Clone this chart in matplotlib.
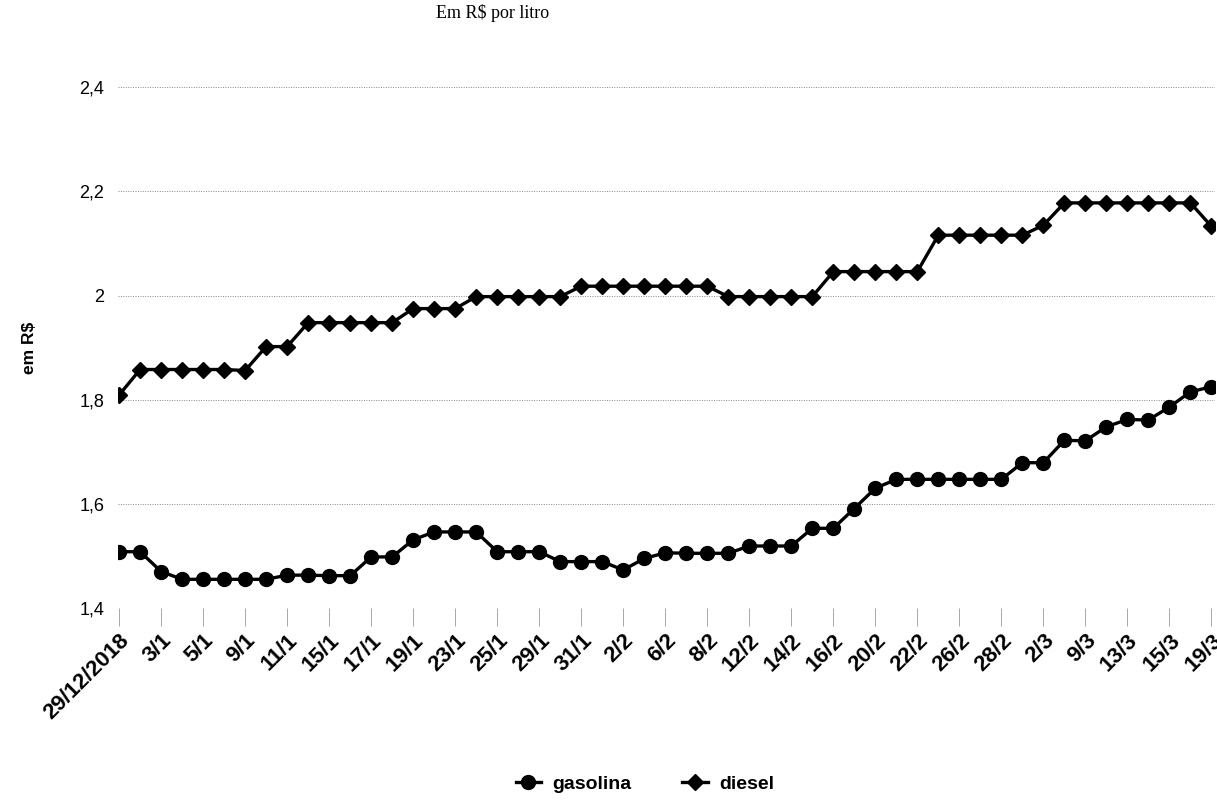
import numpy as np
import matplotlib.pyplot as plt
from matplotlib.lines import Line2D

# tick labels, one for every second observation
tick_labels = ['29/12/2018', '3/1', '5/1', '9/1', '11/1', '15/1', '17/1', '19/1',
               '23/1', '25/1', '29/1', '31/1', '2/2', '6/2', '8/2', '12/2', '14/2',
               '16/2', '20/2', '22/2', '26/2', '28/2', '2/3', '9/3', '13/3', '15/3', '19/3']

gasolina = [1.508, 1.508, 1.470, 1.455, 1.455, 1.455, 1.455, 1.455, 1.463, 1.463,
            1.462, 1.462, 1.498, 1.498, 1.531, 1.546, 1.546, 1.546, 1.508, 1.508,
            1.508, 1.489, 1.489, 1.489, 1.473, 1.495, 1.506, 1.505, 1.505, 1.505,
            1.519, 1.519, 1.519, 1.553, 1.553, 1.591, 1.630, 1.647, 1.647, 1.647,
            1.647, 1.647, 1.647, 1.679, 1.679, 1.722, 1.721, 1.748, 1.762, 1.761,
            1.786, 1.815, 1.825]

diesel = [1.809, 1.858, 1.858, 1.858, 1.858, 1.858, 1.856, 1.902, 1.902, 1.948,
          1.948, 1.948, 1.948, 1.948, 1.975, 1.975, 1.975, 1.998, 1.998, 1.998,
          1.998, 1.998, 2.018, 2.018, 2.018, 2.018, 2.018, 2.018, 2.018, 1.998,
          1.998, 1.998, 1.998, 1.998, 2.046, 2.046, 2.046, 2.046, 2.046, 2.116,
          2.116, 2.116, 2.116, 2.116, 2.135, 2.178, 2.178, 2.178, 2.178, 2.178,
          2.178, 2.178, 2.133]

yticks = [1.4, 1.6, 1.8, 2.0, 2.2, 2.4]
ytick_labels = ['1,4', '1,6', '1,8', '2', '2,2', '2,4']

x = np.arange(len(gasolina))

fig = plt.figure(figsize=(12.17, 8.01), dpi=100)
ax = fig.add_axes([0.097, 0.241, 0.901, 0.650])

ax.plot(x, gasolina, color='black', lw=2.4, marker='o', ms=10,
        mfc='black', mec='black', mew=1, label='gasolina', zorder=3)
ax.plot(x, diesel, color='black', lw=2.4, marker='D', ms=8,
        mfc='black', mec='black', mew=1, label='diesel', zorder=3)

ax.set_ylim(1.4, 2.4)
ax.set_xlim(-0.05, len(gasolina) - 1 + 0.15)
ax.set_yticks(yticks)
ax.set_yticklabels(ytick_labels, fontsize=13, family='Liberation Sans')
ax.yaxis.grid(True, color='#888888', linestyle=(0, (1, 1.5)), lw=0.7)
ax.tick_params(axis='y', length=0, pad=10)

ax.set_xticks(x[::2])
ax.set_xticklabels(tick_labels, rotation=45, ha='right', rotation_mode='anchor',
                   fontsize=16, fontweight='bold', family='Liberation Sans')
ax.tick_params(axis='x', length=13, width=0.6, color='#999999', pad=3)

for s in ax.spines.values():
    s.set_visible(False)

ax.set_ylabel('em R$', fontsize=12.5, fontweight='bold', family='Liberation Sans', labelpad=30)

fig.text(0.405, 0.995, 'Em R$ por litro', fontsize=13, family='Liberation Serif',
         ha='center', va='top')

handles = [Line2D([], [], color='black', lw=2.4, marker='o', ms=10),
           Line2D([], [], color='black', lw=2.4, marker='D', ms=8)]
fig.legend(handles, ['gasolina', 'diesel'], loc='center', bbox_to_anchor=(0.53, 0.021),
           ncol=2, frameon=False, handlelength=1.3, columnspacing=2.6, handletextpad=0.6,
           prop={'family': 'Liberation Sans', 'weight': 'bold', 'size': 14})

fig.savefig('out.png', dpi=100)
